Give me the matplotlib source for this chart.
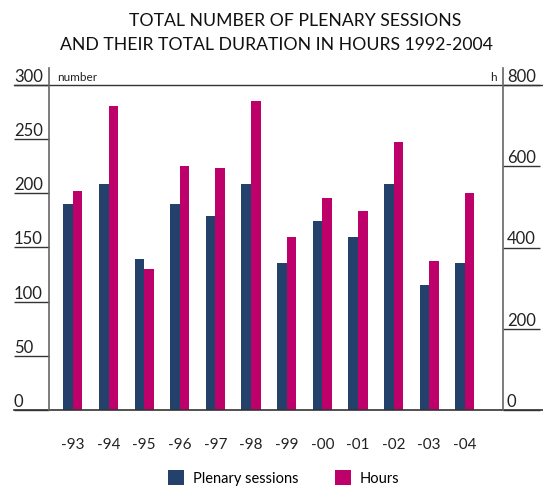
import numpy as np
import matplotlib
matplotlib.use("Agg")
import matplotlib.pyplot as plt
from matplotlib.lines import Line2D
from matplotlib.transforms import blended_transform_factory

plt.rcParams['font.family'] = ['Lato', 'DejaVu Sans']

years = ["-93", "-94", "-95", "-96", "-97", "-98", "-99", "-00", "-01", "-02", "-03", "-04"]
sessions = [190, 209, 139, 190, 179, 209, 136, 174, 160, 209, 115, 136]
hours = [539, 748, 347, 601, 596, 760, 426, 522, 490, 660, 367, 534]
left_ticks = [0, 50, 100, 150, 200, 250, 300]
right_ticks = [0, 200, 400, 600, 800]

BLUE = "#24416b"
PINK = "#bd006a"
LINE = "#333333"
AXIS = "#666666"

W, H = 543, 488
fig = plt.figure(figsize=(W / 100, H / 100), dpi=100)

def fx(px):
    return px / W

def fy(py):
    return 1 - py / H

ax = fig.add_axes([fx(49), fy(410), fx(503) - fx(49), fy(85) - fy(410)])
ax2 = ax.twinx()
for a in (ax, ax2):
    for s in a.spines.values():
        s.set_visible(False)
    a.set_facecolor("none")

x = np.arange(len(years))
w = 0.27
ax.bar(x - w / 2, sessions, w, color=BLUE, label="Plenary sessions", zorder=3)
ax2.bar(x + w / 2, hours, w, color=PINK, label="Hours", zorder=3)
ax.set_xlim(-0.67, 12.07)
ax.set_ylim(0, 300)
ax2.set_ylim(0, 800)

ax.set_xticks(x)
ax.set_xticklabels(years, fontsize=11, color="#222222")
ax.tick_params(axis="x", length=0, pad=20)

ax.set_yticks(left_ticks)
ax.tick_params(axis="y", direction="out", length=35 * 0.72, width=1, color=LINE, labelleft=False)
ax2.set_yticks(right_ticks)
ax2.tick_params(axis="y", direction="out", length=37 * 0.72, width=1, color=LINE, labelright=False)

tl = blended_transform_factory(fig.transFigure, ax.transData)
for v in left_ticks:
    ax.text(fx(14), v, str(v), transform=tl, ha="left", va="bottom", fontsize=12, color="#222222")
tr = blended_transform_factory(fig.transFigure, ax2.transData)
for v in right_ticks:
    ax2.text(fx(507), v, str(v), transform=tr, ha="left", va="bottom", fontsize=12, color="#222222")

# frame lines
fig.add_artist(Line2D([fx(14), fx(543)], [fy(85), fy(85)], color=LINE, lw=1))
fig.add_artist(Line2D([fx(14), fx(543)], [fy(410), fy(410)], color=LINE, lw=1.2))
fig.add_artist(Line2D([fx(49), fx(49)], [fy(68), fy(410)], color=AXIS, lw=1.2))
fig.add_artist(Line2D([fx(503), fx(503)], [fy(68), fy(410)], color=AXIS, lw=1.2))

fig.text(fx(57), fy(83), "number", ha="left", va="bottom", fontsize=8.5, color="#222222")
fig.text(fx(497), fy(83), "h", ha="right", va="bottom", fontsize=8.5, color="#222222")

fig.text(fx(295), fy(21), "TOTAL NUMBER OF PLENARY SESSIONS", ha="center", va="center", fontsize=12.7, color="#111111")
fig.text(fx(276), fy(45), "AND THEIR TOTAL DURATION IN HOURS 1992-2004", ha="center", va="center", fontsize=12.7, color="#111111")

h1, l1 = ax.get_legend_handles_labels()
h2, l2 = ax2.get_legend_handles_labels()
fig.legend(h1 + h2, l1 + l2, loc="center", bbox_to_anchor=(fx(284), fy(478)), ncol=2, frameon=False,
           fontsize=10.5, handlelength=1.1, handleheight=1.2, handletextpad=0.6, columnspacing=2.5)

fig.savefig("out.png", dpi=100)
